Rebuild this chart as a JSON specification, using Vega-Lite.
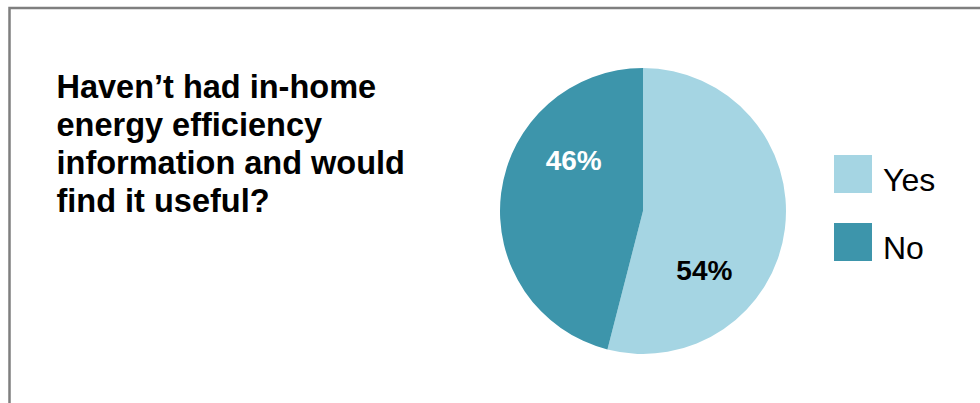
{
  "$schema": "https://vega.github.io/schema/vega-lite/v6.json",
  "width": 1267,
  "height": 406,
  "autosize": {"type": "none"},
  "padding": {"left": 9.5, "top": 8, "right": 0, "bottom": 0},
  "background": "white",
  "config": {
    "view": {"stroke": "#7f7f7f", "strokeWidth": 2.5},
    "font": "Liberation Sans"
  },
  "title": {
    "text": ["Haven’t had in-home", "energy efficiency", "information and would", "find it useful?"],
    "anchor": "start",
    "frame": "group",
    "orient": "top",
    "offset": -212,
    "dx": 47,
    "fontSize": 32.5,
    "fontWeight": "bold",
    "font": "Liberation Sans",
    "color": "black",
    "lineHeight": 38,
    "baseline": "top"
  },
  "data": {
    "values": [
      {"answer": "Yes", "share": 0.54},
      {"answer": "No", "share": 0.46}
    ]
  },
  "layer": [
    {
      "data": {"values": [{"frame": "border"}]},
      "mark": {"type": "rect", "fill": null, "stroke": "#7f7f7f", "strokeWidth": 2.5},
      "encoding": {}
    },
    {
      "mark": {"type": "arc", "outerRadius": 143},
      "encoding": {
        "theta": {"field": "share", "type": "quantitative", "stack": true},
        "order": {"field": "answer", "sort": "descending"},
        "color": {
          "field": "answer",
          "type": "nominal",
          "scale": {"domain": ["Yes", "No"], "range": ["#A5D5E3", "#3D95AB"]},
          "legend": {
            "orient": "none",
            "legendX": 824.5,
            "legendY": 147,
            "title": null,
            "symbolType": "square",
            "symbolSize": 1444,
            "symbolStrokeWidth": 0,
            "symbolOpacity": 1,
            "labelFont": "Liberation Sans",
            "labelFontSize": 32,
            "labelColor": "black",
            "labelOffset": 11,
            "rowPadding": 26,
            "padding": 0,
            "encode": {"labels": {"update": {"dy": {"value": 7}}}}
          }
        }
      }
    },
    {
      "mark": {"type": "text", "radius": 85, "font": "Liberation Sans", "fontWeight": "bold", "fontSize": 28, "dx": 15, "dy": -38, "color": "white"},
      "encoding": {
        "theta": {"field": "share", "type": "quantitative", "stack": true},
        "order": {"field": "answer", "sort": "descending"},
        "text": {"condition": {"test": "datum.answer == 'No'", "field": "share", "type": "quantitative", "format": ".0%"}, "value": ""}
      }
    },
    {
      "mark": {"type": "text", "radius": 85, "font": "Liberation Sans", "fontWeight": "bold", "fontSize": 28, "dx": -23, "dy": 50, "color": "black"},
      "encoding": {
        "theta": {"field": "share", "type": "quantitative", "stack": true},
        "order": {"field": "answer", "sort": "descending"},
        "text": {"condition": {"test": "datum.answer == 'Yes'", "field": "share", "type": "quantitative", "format": ".0%"}, "value": ""}
      }
    }
  ]
}
